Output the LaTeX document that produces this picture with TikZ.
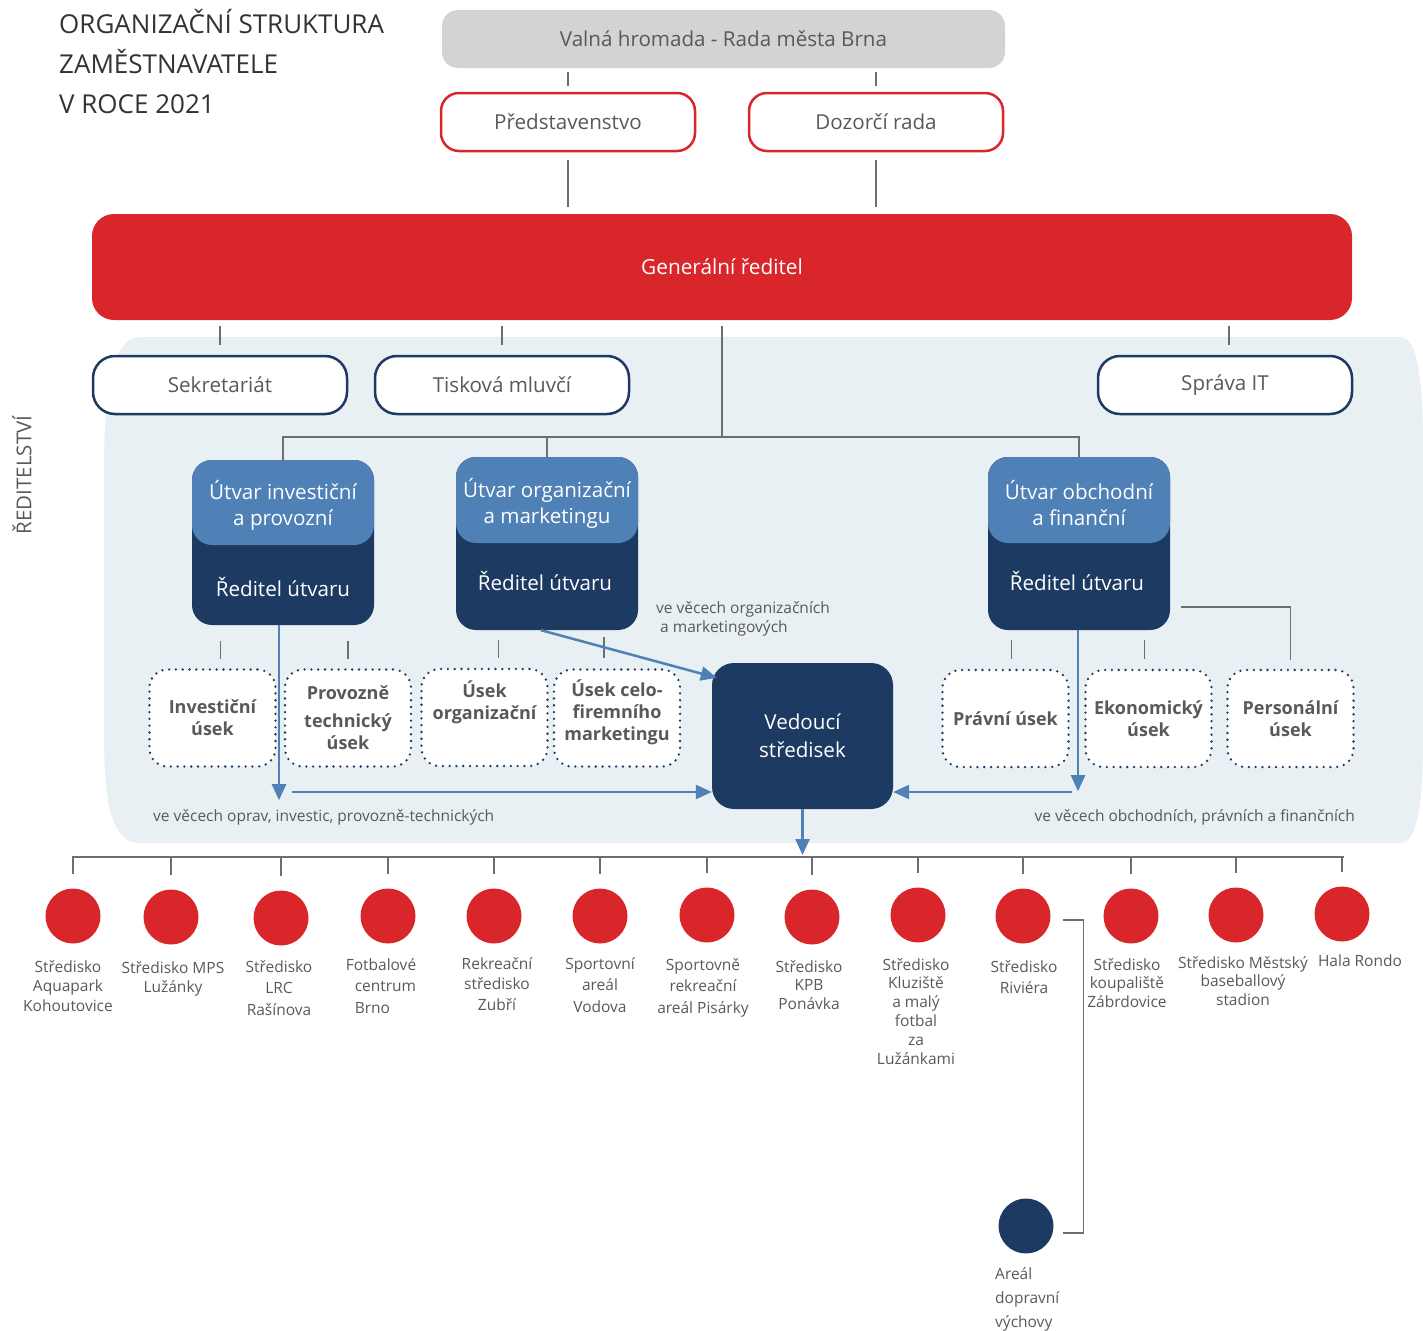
\documentclass[tikz,border=0pt]{standalone}
\usepackage{fontspec}
\setmainfont{Open Sans}
\usetikzlibrary{arrows.meta}

\definecolor{brnored}{HTML}{D9262A}
\definecolor{navy}{HTML}{1C3A62}
\definecolor{steel}{HTML}{4F80B6}
\definecolor{paleblue}{HTML}{E8F0F3}
\definecolor{boxgray}{HTML}{D1D3D4}
\definecolor{txtgray}{HTML}{58595B}
\definecolor{linegray}{HTML}{6D6E71}
\definecolor{titlegray}{HTML}{333333}

\newcommand{\fsz}[2]{\fontsize{#1}{#2}\selectfont}

\tikzset{
  link/.style={draw=linegray, line width=1.5pt},
  flow/.style={draw=steel, line width=2.5pt, -{Triangle[length=16pt,width=14pt]}},
  topbox/.style={fill=boxgray, rounded corners=16pt, minimum width=563pt, minimum height=58pt,
    text=txtgray, font=\fsz{20.6}{24}},
  redbox/.style={draw=brnored, line width=2.5pt, fill=white, rounded corners=18pt,
    minimum width=254pt, minimum height=58pt, text=txtgray, font=\fsz{20.6}{24}},
  navybox/.style={draw=navy, line width=2.5pt, fill=white, rounded corners=22pt,
    minimum width=254pt, minimum height=58pt, text=txtgray, font=\fsz{20.6}{24}},
  unitbox/.style={fill=navy, rounded corners=20pt, minimum width=182pt},
  headbox/.style={fill=steel, rounded corners=20pt, minimum width=182pt, text=white,
    align=center, font=\fsz{20.6}{26}, inner sep=0pt},
  dottedbox/.style={draw=navy, line width=2.6pt, line cap=round, dash pattern=on 0pt off 6.8pt,
    fill=white, rounded corners=18pt, minimum width=126pt, minimum height=97pt,
    text=txtgray, align=center, font=\bfseries\fsz{18}{22}, inner sep=2pt},
  spot/.style={circle, fill=brnored, minimum size=55pt, inner sep=0pt},
  lbl/.style={anchor=north, align=center, text=txtgray, font=\fsz{15.5}{19.5}, inner sep=0pt},
  note/.style={text=txtgray, font=\fsz{15.5}{19}, inner sep=0pt}
}

\begin{document}
\begin{tikzpicture}[x=1pt,y=-1pt]
  \useasboundingbox (0,0) rectangle (1423,1330);

  % background panel
  \fill[paleblue] (140,337) -- (1400,337) .. controls (1418,337) and (1423,380) .. (1423,450)
    -- (1423,740) .. controls (1423,800) and (1418,843) .. (1400,843)
    -- (140,843) .. controls (110,843) and (104,800) .. (104,730)
    -- (104,470) .. controls (104,400) and (110,337) .. (140,337) -- cycle;

  \node[anchor=north west, align=left, inner sep=0pt, text=titlegray, font=\fsz{26}{40}] (title) at (59,9)
    {ORGANIZAČNÍ STRUKTURA\\ZAMĚSTNAVATELE\\V ROCE 2021};
  \node[rotate=90, text=txtgray, font=\fsz{20.5}{24}] (side) at (22,475) {ŘEDITELSTVÍ};

  % top levels
  \node[topbox] (vh) at (723.5,39) {Valná hromada - Rada města Brna};
  \node[redbox] (pr) at (568,122) {Představenstvo};
  \node[redbox] (dr) at (876,122) {Dozorčí rada};
  \node[fill=brnored, rounded corners=22pt, minimum width=1260pt, minimum height=106pt,
    text=white, font=\fsz{20.8}{24}] (gr) at (722,267) {Generální ředitel};

  \draw[link, shorten <=4pt, shorten >=6pt] (vh.south -| pr.north) -- (pr.north);
  \draw[link, shorten <=4pt, shorten >=6pt] (vh.south -| dr.north) -- (dr.north);
  \draw[link, shorten <=8pt, shorten >=7pt] (pr.south) -- (gr.north -| pr.south);
  \draw[link, shorten <=8pt, shorten >=7pt] (dr.south) -- (gr.north -| dr.south);

  \node[navybox] (sk) at (220,385) {Sekretariát};
  \node[navybox] (tm) at (502,385) {Tisková mluvčí};
  \node[navybox] (it) at (1225,385) {Správa IT};

  \draw[link, shorten <=6pt, shorten >=10pt] (gr.south -| sk.north) -- (sk.north);
  \draw[link, shorten <=6pt, shorten >=10pt] (gr.south -| tm.north) -- (tm.north);
  \draw[link, shorten <=6pt, shorten >=10pt] ([xshift=4pt]gr.south -| it.north) -- ([xshift=4pt]it.north);

  % units
  \node[unitbox, minimum height=165pt] (u1) at (283,542.5) {};
  \node[headbox, minimum height=85pt] (u1h) at (283,502.5) {\rule{0pt}{25pt}Útvar investiční\\a provozní};
  \node[text=white, font=\fsz{20.6}{24}] (u1t) at (283,587) {Ředitel útvaru};

  \node[unitbox, minimum height=173pt] (u2) at (547,543.5) {};
  \node[headbox, minimum height=86pt] (u2h) at (547,500) {\rule{0pt}{25pt}Útvar organizační\\a marketingu};
  \node[text=white, font=\fsz{20.6}{24}] (u2t) at (545,581) {Ředitel útvaru};

  \node[unitbox, minimum height=173pt] (u3) at (1079,543.5) {};
  \node[headbox, minimum height=86pt] (u3h) at (1079,500) {\rule{0pt}{25pt}Útvar obchodní\\a finanční};
  \node[text=white, font=\fsz{20.6}{24}] (u3t) at (1077,581) {Ředitel útvaru};

  \coordinate (hub) at (722,437);
  \draw[link, shorten <=6pt] (gr.south) -- (hub);
  \draw[link] (u1h.north) |- (hub) -| (u3h.north);
  \draw[link] (hub -| u2h.north) -- (u2h.north);

  % sections
  \node[dottedbox] (d1) at (212.5,718) {Investiční\\úsek};
  \node[dottedbox] (d2) at (348,718) {Provozně\\[6pt]technický\\úsek};
  \node[dottedbox] (d3) at (484.5,717.5) {Úsek\\organizační\\[12pt]};
  \node[dottedbox] (d4) at (617,718) {Úsek celo-\\firemního\\marketingu\\[-6pt]};
  \node[dottedbox] (d5) at (1005.5,718.5) {Právní úsek};
  \node[dottedbox] (d6) at (1148.5,718.5) {Ekonomický\\úsek};
  \node[dottedbox] (d7) at (1290.5,718.5) {Personální\\úsek};

  \draw[link, shorten <=16pt, shorten >=9pt] ([xshift=8pt]d1.north |- u1.south) -- ([xshift=8pt]d1.north);
  \draw[link, shorten <=16pt, shorten >=9pt] (d2.north |- u1.south) -- (d2.north);
  \draw[link, shorten <=10pt, shorten >=10pt] ([xshift=14pt]d3.north |- u2.south) -- ([xshift=14pt]d3.north);
  \draw[link, shorten <=7pt, shorten >=10pt] ([xshift=-13pt]d4.north |- u2.south) -- ([xshift=-13pt]d4.north);
  \draw[link, shorten <=10pt, shorten >=10pt] ([xshift=6pt]d5.north |- u3.south) -- ([xshift=6pt]d5.north);
  \draw[link, shorten <=10pt, shorten >=10pt] ([xshift=-4pt]d6.north |- u3.south) -- ([xshift=-4pt]d6.north);
  \draw[link, shorten >=9pt] ([shift={(11,-23)}]u3.south east) -| (d7.north);

  % centre heads
  \node[fill=navy, rounded corners=22pt, minimum width=181pt, minimum height=146pt,
    text=white, align=center, font=\fsz{20.6}{28}] (v) at (802.5,736) {Vedoucí\\středisek};

  \coordinate (fl) at (292,792);
  \coordinate (fr) at (1072,792);
  \draw[flow] ([xshift=-4pt]u1.south) -- ++(0,175);
  \draw[flow] (fl) -- (v.west |- fl);
  \draw[flow] ([xshift=-6pt]u2.south) -- ([shift={(5,15)}]v.north west);
  \draw[flow] ([xshift=-1pt]u3.south) -- ++(0,161);
  \draw[flow] (fr) -- (v.east |- fr);

  \node[note, anchor=west] (n1) at (153,817) {ve věcech oprav, investic, provozně-technických};
  \node[note, anchor=north west, align=left] (n2) at (656,601)
    {ve věcech organizačních\\\hspace{4pt}a marketingových};
  \node[note, anchor=east] (n3) at (1355,817) {ve věcech obchodních, právních a finančních};

  % centres
  \node[spot] (s1) at (73,916) {};
  \node[spot] (s2) at (171,917) {};
  \node[spot] (s3) at (281,918) {};
  \node[spot] (s4) at (388,916) {};
  \node[spot] (s5) at (494,916) {};
  \node[spot] (s6) at (600,916) {};
  \node[spot] (s7) at (707,915) {};
  \node[spot] (s8) at (812,917) {};
  \node[spot] (s9) at (918,915) {};
  \node[spot] (s10) at (1023,916) {};
  \node[spot] (s11) at (1131,916) {};
  \node[spot] (s12) at (1236,915) {};
  \node[spot] (s13) at (1342,914) {};
  \node[spot, fill=navy] (s14) at (1026,1226) {};

  \coordinate (bus) at (722,857);
  \draw[flow] (v.south) -- ([yshift=2pt]v.south |- bus);
  \draw[link] ([xshift=-1pt]s1.north |- bus) -- ([xshift=2pt]s13.north |- bus);
  \foreach \i in {1,...,13}
    \draw[link, shorten >=14pt] (s\i.north |- bus) -- (s\i.north);
  \draw[link] ([shift={(12,4)}]s10.east) -| ([shift={(30,7)}]s14.east) -- ([shift={(9,7)}]s14.east);

  \node[lbl] (t1) at (68,960) {Středisko\\Aquapark\\Kohoutovice};
  \node[lbl] (t2) at (173,961) {Středisko MPS\\Lužánky};
  \node[lbl, font=\fsz{15.5}{21.5}] (t3) at (279,960) {Středisko\\LRC\\Rašínova};
  \node[lbl, align=left, font=\fsz{15.5}{21.5}] (t4) at (381,958)
    {Fotbalové\\\hspace{9pt}centrum\\\hspace{9pt}Brno};
  \node[lbl, font=\fsz{15.5}{20.5}] (t5) at (497,957) {Rekreační\\středisko\\Zubří};
  \node[lbl, font=\fsz{15.5}{21.5}] (t6) at (600,957) {Sportovní\\areál\\Vodova};
  \node[lbl, font=\fsz{15.5}{21.5}] (t7) at (703,958) {Sportovně\\rekreační\\areál Pisárky};
  \node[lbl, font=\fsz{15.5}{18.5}] (t8) at (809,960) {Středisko\\KPB\\Ponávka};
  \node[lbl, font=\fsz{15.5}{18.8}] (t9) at (916,958)
    {Středisko\\Kluziště\\a malý\\fotbal\\za\\Lužánkami};
  \node[lbl, font=\fsz{15.5}{21}] (t10) at (1024,960) {Středisko\\Riviéra};
  \node[lbl, font=\fsz{15.5}{18.5}] (t11) at (1127,958) {Středisko\\koupaliště\\Zábrdovice};
  \node[lbl, font=\fsz{15.5}{18.5}] (t12) at (1243,956) {Středisko Městský\\baseballový\\stadion};
  \node[lbl] (t13) at (1360,955) {Hala Rondo};
  \node[lbl, anchor=north west, align=left, font=\fsz{15.5}{24}] (t14) at (995,1267)
    {Areál\\dopravní\\výchovy};
\end{tikzpicture}
\end{document}
